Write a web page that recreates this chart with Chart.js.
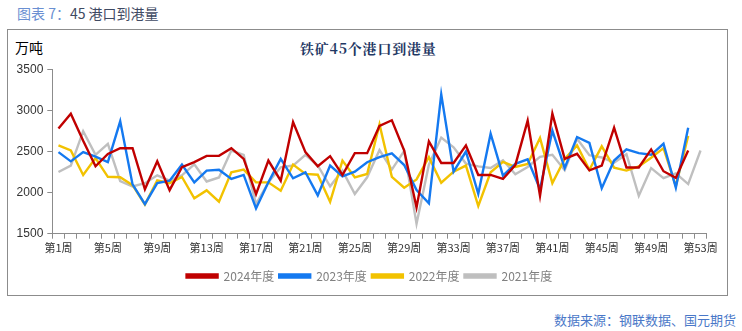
<!DOCTYPE html>
<html>
<head>
<meta charset="utf-8">
<script src="https://cdn.jsdelivr.net/npm/chart.js@4.4.1/dist/chart.umd.min.js"></script>
<style>
  html, body { margin: 0; padding: 0; background: #fff; }
  body { width: 742px; height: 331px; position: relative; overflow: hidden;
         font-family: "Noto Sans CJK SC", "Liberation Sans", sans-serif; }
  #wrap { position: absolute; left: 0; top: 0; width: 742px; height: 331px; }
  #frame { position: absolute; left: 7px; top: 29px; width: 721px; height: 267px;
           border: 1px solid #8c8c8c; box-sizing: border-box; }
  .t { position: absolute; white-space: nowrap; line-height: 1; }
  #title { left: 17px; top: 6px; font-size: 14px; color: #3f4a63; }
  #title span { color: #6a8fd2; }
  #unit { left: 15px; top: 40px; font-size: 14px; color: #000; }
  #ctitle { left: 300px; top: 41px; font-size: 14px; font-weight: bold; color: #1f3864;
            font-family: "Noto Serif CJK SC", "Noto Sans CJK SC", serif; letter-spacing: 0.8px; }
  #source { right: 6px; top: 313px; font-size: 13px; color: #4a78c8; }
  canvas { position: absolute; left: 0; top: 0; }
</style>
</head>
<body>
<div id="wrap">
  <div id="frame"></div>
  <div class="t" id="title"><span>图表&nbsp;7：</span>45 港口到港量</div>
  <div class="t" id="unit">万吨</div>
  <div class="t" id="ctitle">铁矿45个港口到港量</div>
  <div class="t" id="source">数据来源：钢联数据、国元期货</div>
  <canvas id="c" width="742" height="331"></canvas>
</div>
<script>
const weeks = [];
for (let i = 1; i <= 53; i++) weeks.push('第' + i + '周');

const seriesNames = ['2024年度', '2023年度', '2022年度', '2021年度'];

const y2024 = [2780, 2960, 2630, 2320, 2470, 2540, 2540, 2040, 2380, 2030,
               2310, 2370, 2447, 2447, 2541, 2410, 1982, 2390, 2145, 2859,
               2492, 2320, 2443, 2214, 2480, 2480, 2810, 2880, 2512, 1820,
               2623, 2361, 2361, 2574, 2215, 2215, 2166, 2335, 2875, 1962,
               2961, 2410, 2472, 2270, 2329, 2790, 2305, 2305, 2525, 2260,
               2180, 2512, null];

const y2023 = [2492, 2380, 2492, 2437, 2370, 2867, 2100, 1860, 2115, 2145,
               2340, 2125, 2268, 2278, 2166, 2215, 1807, 2125, 2410, 2174,
               2247, 1966, 2329, 2198, 2255, 2370, 2431, 2476, 2335, 2030,
               1870, 3195, 2255, 2500, 1985, 2716, 2206, 2350, 2405, 2040,
               2753, 2300, 2676, 2604, 2053, 2390, 2525, 2480, 2460, 2594,
               2060, 2788, null];

const y2022 = [2574, 2512, 2215, 2419, 2192, 2186, 2090, 1855, 2150, 2115,
               2190, 1930, 2027, 1890, 2247, 2280, 2125, 2125, 2023, 2341,
               2227, 2217, 1888, 2390, 2186, 2227, 2830, 2192, 2060, 2160,
               2431, 2120, 2255, 2329, 1837, 2247, 2374, 2312, 2349, 2665,
               2115, 2410, 2574, 2278, 2563, 2304, 2268, 2319, 2425, 2541,
               2078, 2690, null];

const y2021 = [2250, 2329, 2747, 2460, 2594, 2141, 2074, 2115, 2210, 2145,
               2210, 2345, 2135, 2184, 2512, 2459, 1860, 2125, 2308, 2329,
               2459, 2330, 2076, 2268, 1982, 2186, 2518, 2280, 2508, 1620,
               2340, 2670, 2550, 2353, 2319, 2300, 2394, 2223, 2312, 2435,
               2461, 2272, 2655, 2455, 2427, 2363, 2467, 1962, 2298, 2176,
               2235, 2104, 2512];

const yTicks = [1500, 2000, 2500, 3000, 3500];

const colors = ['#c00000', '#1479f0', '#f2c200', '#bfbfbf'];
const values = [y2024, y2023, y2022, y2021];

const datasets = seriesNames.map((name, k) => ({
  label: name,
  data: values[k],
  borderColor: colors[k],
  backgroundColor: colors[k],
  borderWidth: 2.4,
  pointRadius: 0,
  tension: 0,
  spanGaps: false,
  order: k
}));

const axisColor = '#8c8c8c';
const tickFont = { family: '"Noto Sans CJK SC", "Liberation Sans", sans-serif', size: 11 };

// centre the legend under the whole frame rather than under the plot box
const legendShift = {
  id: 'legendShift',
  afterLayout(chart) {
    const lg = chart.legend;
    if (lg) { lg.left += 16; lg.right += 16; }
  }
};

new Chart(document.getElementById('c'), {
  type: 'line',
  data: { labels: weeks, datasets: datasets },
  plugins: [legendShift],
  options: {
    responsive: false,
    animation: false,
    devicePixelRatio: 1,
    layout: { padding: { left: 0, right: 35.3, top: 69.3, bottom: 39 } },
    plugins: {
      legend: {
        display: true,
        position: 'bottom',
        labels: {
          boxWidth: 31,
          boxHeight: 3,
          padding: 5,
          color: '#808080',
          font: { family: '"Noto Sans CJK SC", "Liberation Sans", sans-serif', size: 12 }
        }
      },
      tooltip: { enabled: false }
    },
    scales: {
      x: {
        type: 'category',
        offset: true,
        afterFit: (s) => { s.height = 31.3; },
        border: { display: true, color: axisColor, width: 1 },
        grid: { display: true, offset: true, drawOnChartArea: false, drawTicks: true,
                tickLength: 5, color: axisColor, lineWidth: 1 },
        ticks: {
          autoSkip: false,
          maxRotation: 0,
          minRotation: 0,
          padding: 3,
          color: '#333333',
          font: tickFont,
          callback: function (v, i) { return (i % 4 === 0) ? weeks[i] : ''; }
        }
      },
      y: {
        min: 1500,
        max: 3500,
        afterFit: (s) => { s.width = 52.3; },
        afterBuildTicks: (s) => { s.ticks = yTicks.map(v => ({ value: v })); },
        border: { display: true, color: axisColor, width: 1 },
        grid: { display: true, drawOnChartArea: false, drawTicks: true,
                tickLength: 5, color: axisColor, lineWidth: 1 },
        ticks: {
          padding: 4,
          color: '#333333',
          font: { family: '"Liberation Sans", Arial, sans-serif', size: 12 },
          callback: function (v) { return String(v); }
        }
      }
    }
  }
});
</script>
</body>
</html>
